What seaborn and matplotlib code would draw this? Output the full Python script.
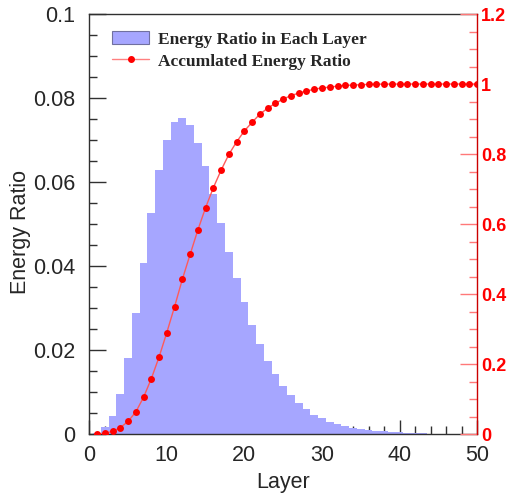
import numpy as np
import matplotlib
matplotlib.use("Agg")
import matplotlib.pyplot as plt
import seaborn as sns
from matplotlib.patches import Patch
from matplotlib.lines import Line2D
from matplotlib.ticker import MultipleLocator, FixedLocator, FixedFormatter

# layer index 1..50
LAYERS = list(range(1, 51))

# energy fraction deposited in each layer
E_RATIO = [
    0.0003, 0.0016, 0.0044, 0.0096, 0.0181, 0.0289, 0.0408, 0.0526, 0.0628, 0.0700,
    0.0742, 0.0752, 0.0736, 0.0693, 0.0639, 0.0572, 0.0503, 0.0434, 0.0371, 0.0314,
    0.0260, 0.0214, 0.0175, 0.0142, 0.0114, 0.0092, 0.0074, 0.0060, 0.0046, 0.0038,
    0.0029, 0.0023, 0.0018, 0.0014, 0.0011, 0.0009, 0.0007, 0.0006, 0.0005, 0.0004,
    0.0003, 0.0002, 0.00015, 0.0001, 0.0001, 0.00008, 0.00006, 0.00005, 0.00004, 0.00003,
]

# accumulated ratio (red dots, right axis)
ACC_RATIO = [
    0.0005, 0.002, 0.0076, 0.018, 0.036, 0.063, 0.105, 0.158, 0.220, 0.290,
    0.364, 0.442, 0.513, 0.583, 0.647, 0.704, 0.754, 0.799, 0.835, 0.866,
    0.891, 0.914, 0.931, 0.945, 0.957, 0.967, 0.974, 0.980, 0.985, 0.989,
    0.991, 0.994, 0.996, 0.997, 0.998, 0.999, 0.9995, 0.9997, 0.9998, 0.9999,
    1.0, 1.0, 1.0, 1.0, 1.0, 1.0, 1.0, 1.0, 1.0, 1.0,
]

LEFT_TICKS = [0, 0.02, 0.04, 0.06, 0.08, 0.1]
LEFT_LABELS = ["0", "0.02", "0.04", "0.06", "0.08", "0.1"]
RIGHT_TICKS = [0, 0.2, 0.4, 0.6, 0.8, 1.0, 1.2]
RIGHT_LABELS = ["0", "0.2", "0.4", "0.6", "0.8", "1", "1.2"]

BAR_COLOR = "#a6a6ff"
SANS = ["Liberation Sans", "DejaVu Sans"]
SERIF = ["Liberation Serif", "DejaVu Serif"]

sns.set_style("ticks")
plt.rcParams["font.family"] = SANS

fig = plt.figure(figsize=(5.07, 4.95), dpi=100)
ax = fig.add_axes([0.176, 0.1232, 0.7652, 0.8485])

sns.histplot(x=LAYERS, weights=E_RATIO, discrete=True, ax=ax,
             color=BAR_COLOR, alpha=1, linewidth=0, element="bars")

ax.set_xlim(0, 50)
ax.set_ylim(0, 0.1)
ax.xaxis.set_major_locator(MultipleLocator(10))
ax.xaxis.set_minor_locator(MultipleLocator(2))
ax.yaxis.set_major_locator(FixedLocator(LEFT_TICKS))
ax.yaxis.set_major_formatter(FixedFormatter(LEFT_LABELS))
ax.yaxis.set_minor_locator(MultipleLocator(0.005))
ax.tick_params(axis="both", which="both", direction="in", labelsize=15.5,
               color="#303030", right=False, top=False)
ax.tick_params(axis="x", which="major", length=10, width=1, pad=8)
ax.tick_params(axis="x", which="minor", length=6, width=1)
ax.tick_params(axis="y", which="major", length=12, width=1, pad=10)
ax.tick_params(axis="y", which="minor", length=6, width=1)
ax.set_xlabel("Layer", fontsize=15.5, labelpad=4)
ax.set_ylabel("Energy Ratio", fontsize=15.5)
ax.yaxis.set_label_coords(-0.15, 0.48)
for s in ["left", "top", "bottom"]:
    ax.spines[s].set_color("#303030")
    ax.spines[s].set_linewidth(1)
ax.spines["right"].set_visible(False)

# accumulated curve on the right axis
ax2 = ax.twinx()
sns.lineplot(x=LAYERS, y=ACC_RATIO, ax=ax2, color="#ff5a5a", linewidth=1,
             marker="o", markersize=5, markerfacecolor="red",
             markeredgecolor="red", markeredgewidth=0)
ax2.set_ylim(0, 1.2)
ax2.set_xlim(0, 50)
ax2.yaxis.set_major_locator(FixedLocator(RIGHT_TICKS))
ax2.yaxis.set_major_formatter(FixedFormatter(RIGHT_LABELS))
ax2.yaxis.set_minor_locator(MultipleLocator(0.05))
ax2.tick_params(axis="y", which="both", direction="in", color="#ff7878",
                labelcolor="red", labelsize=13, pad=3)
ax2.tick_params(axis="y", which="major", length=12, width=1)
ax2.tick_params(axis="y", which="minor", length=6, width=1)
for lbl in ax2.get_yticklabels():
    lbl.set_fontweight("bold")
ax2.set_ylabel("")
for s in ["left", "top", "bottom"]:
    ax2.spines[s].set_visible(False)
ax2.spines["right"].set_color("#cc0000")
ax2.spines["right"].set_linewidth(1)

handles = [
    Patch(facecolor=BAR_COLOR, edgecolor="#7070a0", linewidth=0.8),
    Line2D([], [], color="#ff8080", linewidth=1, marker="o", markersize=4,
           markerfacecolor="red", markeredgecolor="red"),
]
leg = ax2.legend(handles, ["Energy Ratio in Each Layer", "Accumlated Energy Ratio"],
                 loc="upper left", bbox_to_anchor=(0.197, 0.962),
                 bbox_transform=fig.transFigure, frameon=False,
                 prop={"family": SERIF, "weight": "bold", "size": 12.5},
                 handlelength=2.15, handleheight=0.8, handletextpad=0.5,
                 labelspacing=0.3, borderpad=0.2)

fig.savefig("out.png", dpi=100)
